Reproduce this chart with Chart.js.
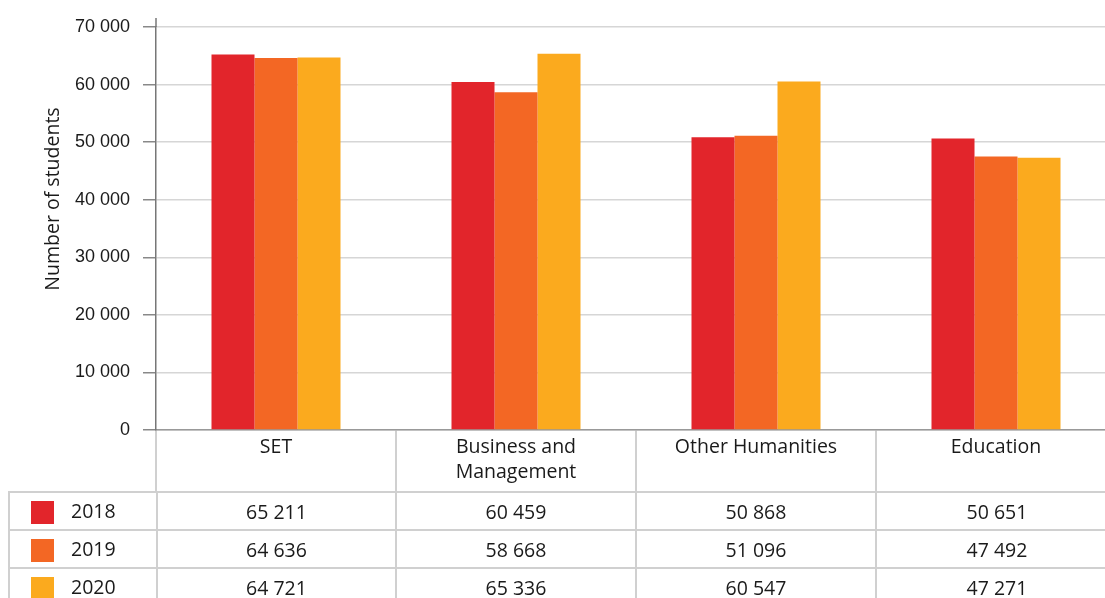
<!DOCTYPE html>
<html>
<head>
<meta charset="utf-8">
<script src="https://cdn.jsdelivr.net/npm/chart.js@4.4.0/dist/chart.umd.min.js"></script>
<style>
html,body{margin:0;padding:0;background:#fff;overflow:hidden;width:1105px;height:598px;}
#wrap{position:absolute;left:0;top:0;width:1120px;height:493px;}
#tbl{position:absolute;left:8px;top:491px;width:1109px;min-width:1109px;border-collapse:collapse;table-layout:fixed;font-family:'Open Sans',sans-serif;font-size:19.5px;color:#1a1a1a;}
#tbl td{border:2px solid #d0d0d0;height:36px;padding:0;text-align:center;white-space:nowrap;}
#tbl td.leg{text-align:left;}
.sw{display:inline-block;width:23px;height:23px;margin-left:21px;margin-right:17px;vertical-align:middle;position:relative;top:-1px;}
</style>
</head>
<body>
<div id="wrap"><canvas id="c" width="1120" height="493"></canvas></div>
<table id="tbl"><colgroup><col style="width:148px"><col style="width:239px"><col style="width:240px"><col style="width:240px"><col style="width:242px"></colgroup><tbody id="tb"></tbody></table>
<script>
const categories = ['SET', ['Business and', 'Management'], 'Other Humanities', 'Education'];
const years = ['2018', '2019', '2020'];
const values2018 = [65211, 60459, 50868, 50651];
const values2019 = [64636, 58668, 51096, 47492];
const values2020 = [64721, 65336, 60547, 47271];
const yTicks = [0, 10000, 20000, 30000, 40000, 50000, 60000, 70000];
const colors = ['#E2252B', '#F36724', '#FBAA1E'];
const seriesValues = [values2018, values2019, values2020];

function fmt(v){ return String(v).replace(/\B(?=(\d{3})+(?!\d))/g, ' '); }

// data table rows
const tb = document.getElementById('tb');
years.forEach((y, i) => {
  const tr = document.createElement('tr');
  const td0 = document.createElement('td');
  td0.className = 'leg';
  const sw = document.createElement('span');
  sw.className = 'sw';
  sw.style.background = colors[i];
  td0.appendChild(sw);
  td0.appendChild(document.createTextNode(y));
  tr.appendChild(td0);
  seriesValues[i].forEach(v => {
    const td = document.createElement('td');
    td.textContent = fmt(v);
    tr.appendChild(td);
  });
  tb.appendChild(tr);
});

const extras = {
  id: 'extras',
  afterDraw(chart){
    const ctx = chart.ctx;
    const y = chart.scales.y;
    ctx.save();
    ctx.strokeStyle = '#777';
    ctx.lineWidth = 1.5;
    ctx.beginPath();
    ctx.moveTo(y.right, 18);
    ctx.lineTo(y.right, chart.chartArea.top);
    ctx.stroke();
    ctx.translate(53, 199);
    ctx.rotate(-Math.PI/2);
    ctx.fillStyle = '#1a1a1a';
    ctx.font = "19.5px 'Open Sans', sans-serif";
    ctx.textAlign = 'center';
    ctx.textBaseline = 'middle';
    ctx.fillText('Number of students', 0, 0);
    ctx.restore();
  }
};

new Chart(document.getElementById('c'), {
  type: 'bar',
  data: {
    labels: categories,
    datasets: years.map((y, i) => ({
      label: y,
      data: seriesValues[i],
      backgroundColor: colors[i],
      borderWidth: 0,
      barPercentage: 1,
      categoryPercentage: 0.5375
    }))
  },
  options: {
    responsive: false,
    animation: false,
    devicePixelRatio: 1,
    layout: { padding: { top: 27, left: 0, right: 4, bottom: 0 } },
    plugins: { legend: { display: false }, tooltip: { enabled: false }, title: { display: false } },
    scales: {
      x: {
        offset: true,
        grid: { offset: true, drawOnChartArea: false, drawTicks: true, tickLength: 63, color: '#d0d0d0', lineWidth: 2 },
        border: { display: true, color: '#999', width: 1.5 },
        ticks: { padding: -59, autoSkip: false, maxRotation: 0, color: '#1a1a1a', font: { family: "'Open Sans', sans-serif", size: 19.5, lineHeight: 1.33 } },
        afterFit(s){ s.height = 63; }
      },
      y: {
        min: 0, max: 70000,
        afterBuildTicks(s){ s.ticks = yTicks.map(v => ({ value: v })); },
        ticks: { padding: 13, color: '#1a1a1a', callback: v => fmt(v), font: { family: "'Liberation Sans', Arial, sans-serif", size: 18 } },
        grid: { color: '#d6d6d6', lineWidth: 1.5, tickLength: 13, tickColor: '#888', tickWidth: 1.5 },
        border: { display: true, color: '#777', width: 1.5 },
        afterFit(s){ s.width = 156; }
      }
    }
  },
  plugins: [extras]
});
</script>
</body>
</html>
